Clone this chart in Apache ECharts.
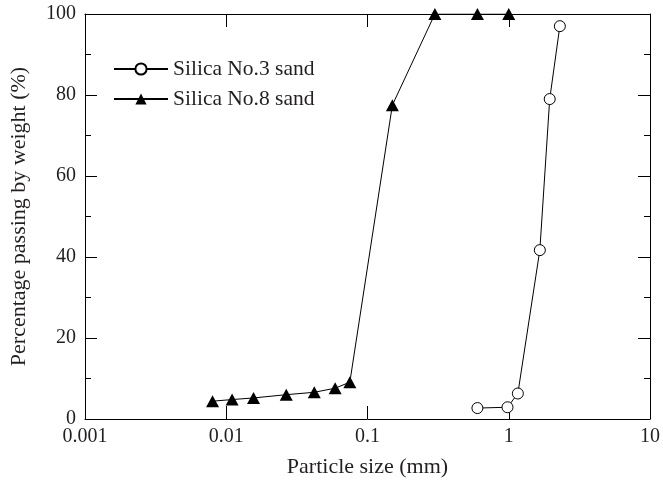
<!DOCTYPE html>
<html>
<head>
<meta charset="utf-8">
<script src="https://cdn.jsdelivr.net/npm/echarts@6/dist/echarts.min.js"></script>
<style>html,body{margin:0;padding:0;background:#fff}#c{width:663px;height:483px}</style>
</head>
<body>
<div id="c"></div>
<script>
var no3Size = [0.6, 0.98, 1.16, 1.66, 1.95, 2.3];
var no3Pass = [2.7, 2.9, 6.3, 41.7, 79, 97];
var no8Size = [0.008, 0.011, 0.0156, 0.0266, 0.042, 0.059, 0.075, 0.15, 0.3, 0.6, 1.0];
var no8Pass = [4.4, 4.8, 5.2, 6.0, 6.6, 7.6, 9.1, 77.5, 100, 100, 100];
var xTickLabels = ['0.001', '0.01', '0.1', '1', '10'];
var seriesNames = ['Silica No.3 sand', 'Silica No.8 sand'];

function pairs(xs, ys) { return xs.map(function (x, i) { return [x, ys[i]]; }); }

var FONT = '"Liberation Serif", "Times New Roman", serif';
var TXT = '#231f20';

var chart = echarts.init(document.getElementById('c'), null, {renderer: 'canvas'});
var baseX = {
  type: 'log', logBase: 10, min: 0.001, max: 10,
  axisLine: {show: true, onZero: false, lineStyle: {color: '#000', width: 1}},
  axisTick: {show: true, inside: true, length: 13, lineStyle: {color: '#000'}},
  minorTick: {show: false},
  splitLine: {show: false}
};
var baseY = {
  type: 'value', min: 0, max: 100, interval: 20,
  axisLine: {show: true, onZero: false, lineStyle: {color: '#000', width: 1}},
  axisTick: {show: true, inside: true, length: 12, lineStyle: {color: '#000'}},
  minorTick: {show: true, splitNumber: 2, length: 6, lineStyle: {color: '#000'}},
  splitLine: {show: false}
};

chart.setOption({
  animation: false,
  backgroundColor: '#fff',
  textStyle: {fontFamily: FONT, color: TXT},
  grid: {left: 84, right: 12, top: 14, bottom: 63, containLabel: false},
  legend: {
    orient: 'vertical', left: 113, top: 58, padding: 0,
    itemWidth: 54, itemHeight: 14, itemGap: 8,
    textStyle: {fontFamily: FONT, fontSize: 21.5, color: TXT},
    data: seriesNames
  },
  xAxis: [
    Object.assign({}, baseX, {
      position: 'bottom',
      name: 'Particle size (mm)', nameLocation: 'middle', nameGap: 37,
      nameTextStyle: {fontFamily: FONT, fontSize: 22, color: TXT},
      axisLabel: {show: true, margin: 8, fontFamily: FONT, fontSize: 20, color: TXT,
        formatter: function (v) { return xTickLabels[Math.round(Math.log10(v)) + 3]; }}
    }),
    Object.assign({}, baseX, {position: 'top', axisLabel: {show: false}})
  ],
  yAxis: [
    Object.assign({}, baseY, {
      position: 'left',
      name: 'Percentage passing by weight (%)', nameLocation: 'middle', nameGap: 55,
      nameTextStyle: {fontFamily: FONT, fontSize: 22, color: TXT},
      axisLabel: {show: true, margin: 9, fontFamily: FONT, fontSize: 20, color: TXT}
    }),
    Object.assign({}, baseY, {position: 'right', axisLabel: {show: false}})
  ],
  series: [
    {
      name: seriesNames[0], type: 'line', xAxisIndex: 0, yAxisIndex: 0,
      data: pairs(no3Size, no3Pass),
      symbol: 'circle', symbolSize: 11, showAllSymbol: true,
      lineStyle: {color: '#000', width: 1},
      itemStyle: {color: '#fff', borderColor: '#000', borderWidth: 1},
      z: 3
    },
    {
      name: seriesNames[1], type: 'line', xAxisIndex: 0, yAxisIndex: 0,
      data: pairs(no8Size, no8Pass),
      symbol: 'triangle', symbolSize: [13, 12], showAllSymbol: true,
      lineStyle: {color: '#000', width: 1},
      itemStyle: {color: '#000', borderColor: '#000', borderWidth: 0},
      z: 3
    }
  ]
});
</script>
</body>
</html>
